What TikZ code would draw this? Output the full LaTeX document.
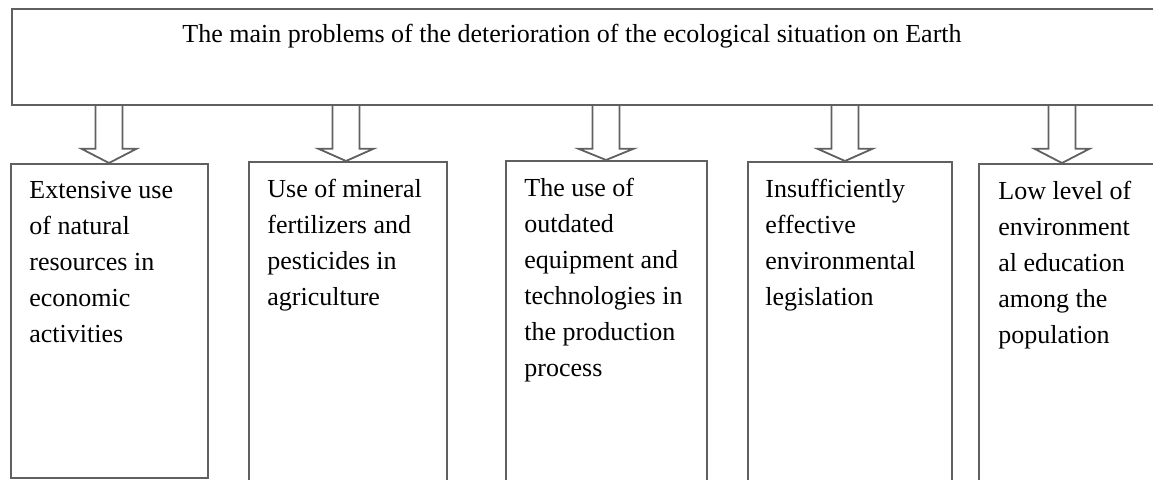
\documentclass[tikz,border=0pt]{standalone}
\usepackage{fontspec}
\setmainfont{Liberation Serif}
\usepackage{xcolor}
\definecolor{line-gray}{RGB}{96,96,96}
\usepackage{tikz}
\usetikzlibrary{calc}

\begin{document}
\begin{tikzpicture}[
    x=0.5pt, y=-0.5pt,
    main box/.style={
        draw=line-gray,
        line width=0.9pt,
        anchor=north west,
        minimum width=574.5pt,
        minimum height=48pt,
        inner sep=0pt
    },
    cause box/.style={
        draw=line-gray,
        line width=0.9pt,
        anchor=north west,
        inner sep=0pt
    },
    main title/.style={
        font=\fontsize{13pt}{18pt}\selectfont,
        anchor=base,
        inner sep=0pt
    },
    cause text/.style={
        font=\fontsize{13pt}{18pt}\selectfont,
        anchor=north west,
        align=left,
        inner sep=0pt
    },
    hollow arrow/.style={draw=line-gray, line width=0.9pt, line join=miter}
]

\useasboundingbox (0,0) rectangle (1153,480);

% Main problem
\node[main box] (top) at (11,8) {};
\node[main title] (title) at (572,43) {The main problems of the deterioration of the ecological situation on Earth};

% Cause 1
\node[cause box, minimum width=98.5pt, minimum height=157pt] (b1) at (10,163) {};
\node[cause text] (t1) at ([xshift=9.5pt, yshift=-9pt]b1.north west) {Extensive use\\of natural\\resources in\\economic\\activities};

% Cause 2
\node[cause box, minimum width=99pt, minimum height=162.5pt] (b2) at (248,161) {};
\node[cause text] (t2) at ([xshift=9.5pt, yshift=-9pt]b2.north west) {Use of mineral\\fertilizers and\\pesticides in\\agriculture};

% Cause 3
\node[cause box, minimum width=100.5pt, minimum height=163pt] (b3) at (505,160) {};
\node[cause text] (t3) at ([xshift=9.5pt, yshift=-9pt]b3.north west) {The use of\\outdated\\equipment and\\technologies in\\the production\\process};

% Cause 4
\node[cause box, minimum width=102pt, minimum height=162.5pt] (b4) at (747,161) {};
\node[cause text] (t4) at ([xshift=9pt, yshift=-9pt]b4.north west) {Insufficiently\\effective\\environmental\\legislation};

% Cause 5
\node[cause box, minimum width=91pt, minimum height=161.5pt] (b5) at (978,163) {};
\node[cause text] (t5) at ([xshift=10pt, yshift=-9pt]b5.north west) {Low level of\\environment\\al education\\among the\\population};

% Hollow arrows from the main box down to every cause
\foreach \i/\cx in {1/109, 2/346, 3/606, 4/845, 5/1062} {
    \coordinate (c\i) at (\cx,0);
    \draw[hollow arrow]
        ($(c\i |- top.south)+(-13.5,0)$) -- ++(0,43) -- ++(-14,0)
        -- (c\i |- b\i.north)
        -- ($(c\i |- top.south)+(27.5,43)$) -- ++(-14,0) -- ++(0,-43);
}

\end{tikzpicture}
\end{document}
